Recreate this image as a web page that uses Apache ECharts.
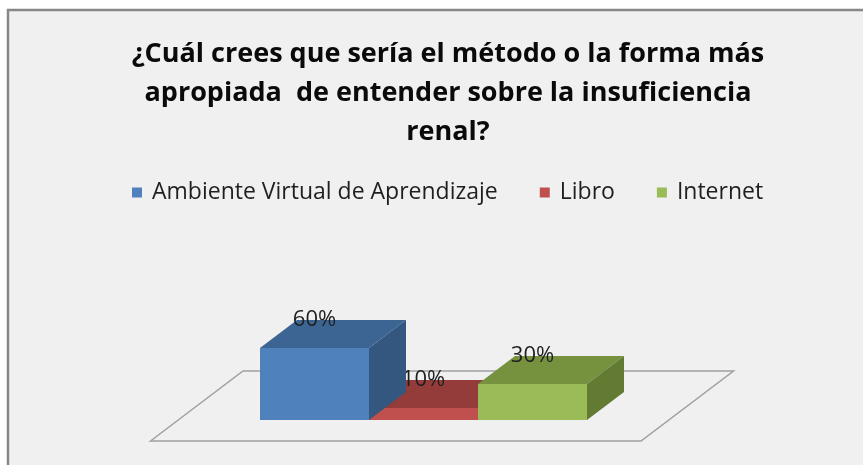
<!DOCTYPE html>
<html>
<head>
<meta charset="utf-8">
<script src="https://cdn.jsdelivr.net/npm/echarts@6/dist/echarts.min.js"></script>
<style>
  html, body { margin: 0; padding: 0; background: #fff; }
  #main { width: 863px; height: 465px; }
</style>
</head>
<body>
<div id="main"></div>
<script>
var seriesNames = ['Ambiente Virtual de Aprendizaje', 'Libro', 'Internet'];
var seriesValues = [60, 10, 30];
var seriesColors = ['#4f81bd', '#c0504d', '#9bbb59'];
var topColors = ['#3d6594', '#943c3a', '#77923f'];
var sideColors = ['#345780', '#7d3230', '#637a33'];
var titleText = '¿Cuál crees que sería el método o la forma más\napropiada  de entender sobre la insuficiencia\nrenal?';

// depth of the 3d boxes, in px
var DX = 37, DY = 28;

var myChart = echarts.init(document.getElementById('main'));

function renderBar(params, api) {
  var i = params.seriesIndex - 1;
  var base = api.coord([api.value(0), 0]);
  var top = api.coord([api.value(0), api.value(1)]);
  var w = api.size([1, 0])[0];
  var x0 = base[0] - w / 2, x1 = base[0] + w / 2;
  var y0 = base[1], y1 = top[1];
  return {
    type: 'group',
    children: [
      { type: 'polygon', shape: { points: [[x0, y1], [x0 + DX, y1 - DY], [x1 + DX, y1 - DY], [x1, y1]] },
        style: { fill: topColors[i] } },
      { type: 'polygon', shape: { points: [[x1, y1], [x1 + DX, y1 - DY], [x1 + DX, y0 - DY], [x1, y0]] },
        style: { fill: sideColors[i] } },
      { type: 'rect', shape: { x: x0, y: y1, width: w, height: y0 - y1 },
        style: { fill: seriesColors[i] } },
      { type: 'text', z2: 50, style: { text: api.value(1) + '%', x: base[0], y: y1 - DY,
        align: 'center', verticalAlign: 'middle', fill: '#1f1f1f',
        font: '22px "Open Sans", sans-serif' } }
    ]
  };
}

function renderFloor(params, api) {
  var cs = params.coordSys;
  var w = api.size([1, 0])[0];
  var y0 = api.coord([0, 0])[1];
  var ext = w * 0.75;
  var fdx = DX * 2.5, fdy = DY * 2.5;
  // middle line of the floor sits at the middle depth of the bars
  var midY = y0 - DY / 2;
  var midL = cs.x - ext + DX / 2, midR = cs.x + cs.width + ext + DX / 2;
  return {
    type: 'polygon',
    shape: { points: [
      [midL - fdx / 2, midY + fdy / 2], [midL + fdx / 2, midY - fdy / 2],
      [midR + fdx / 2, midY - fdy / 2], [midR - fdx / 2, midY + fdy / 2]
    ] },
    style: { fill: 'none', stroke: '#a0a0a0', lineWidth: 1.5 }
  };
}

// draw lower boxes first so taller neighbours overlap them
var order = seriesValues.slice().sort(function (a, b) { return a - b; });

var series = [{
  name: 'floor',
  type: 'custom',
  renderItem: renderFloor,
  data: [[0, 0]],
  z: 1,
  silent: true
}];
seriesNames.forEach(function (n, i) {
  series.push({
    name: n,
    type: 'custom',
    renderItem: renderBar,
    itemStyle: { color: seriesColors[i] },
    data: [[i, seriesValues[i]]],
    z: 2 + order.indexOf(seriesValues[i])
  });
});

var option = {
  backgroundColor: '#ffffff',
  animation: false,
  graphic: [{
    type: 'rect', z: -10, silent: true,
    shape: { x: 8, y: 10, width: 900, height: 500 },
    style: { fill: '#f0f0f0', stroke: '#878787', lineWidth: 2.5 }
  }],
  title: {
    text: titleText,
    left: 443,
    top: 30,
    textAlign: 'center',
    textStyle: {
      fontFamily: 'Open Sans',
      fontWeight: 'bold',
      fontSize: 27,
      lineHeight: 39,
      color: '#0a0a0a'
    }
  },
  legend: {
    data: seriesNames,
    left: 127,
    top: 176,
    icon: 'rect',
    itemWidth: 10,
    itemHeight: 10,
    itemGap: 42,
    textStyle: { fontFamily: 'Open Sans', fontSize: 23, color: '#1f1f1f', padding: [0, 0, 0, 5] }
  },
  grid: { left: 260, width: 327, top: 336, height: 84 },
  xAxis: { type: 'category', data: [0, 1, 2], show: false },
  yAxis: { type: 'value', min: 0, max: 70, show: false },
  series: series
};
myChart.setOption(option);
</script>
</body>
</html>
